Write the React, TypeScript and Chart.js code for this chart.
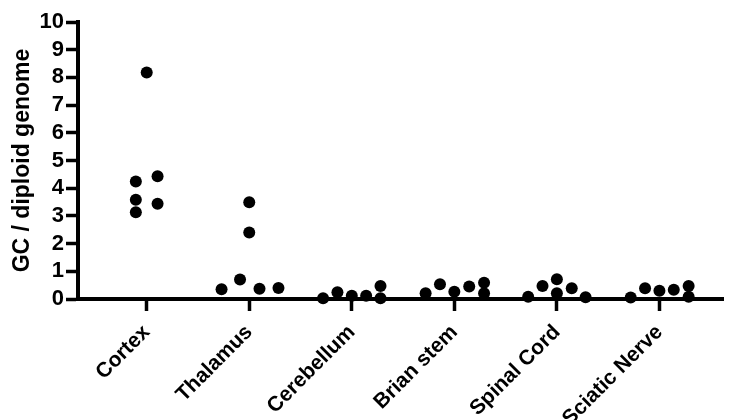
import React, { useEffect, useRef } from "react";
import { Chart, registerables } from "chart.js";

Chart.register(...registerables);

const categories = ["Cortex", "Thalamus", "Cerebellum", "Brian stem", "Spinal Cord", "Sciatic Nerve"];

// measured values per tissue (GC / diploid genome)
const cortexValues = [4.24, 3.58, 3.13, 8.18, 4.43, 3.44];
const thalamusValues = [0.35, 0.70, 3.49, 2.40, 0.37, 0.40];
const cerebellumValues = [0.03, 0.24, 0.12, 0.12, 0.47, 0.03];
const brianStemValues = [0.21, 0.53, 0.26, 0.45, 0.59, 0.21];
const spinalCordValues = [0.08, 0.47, 0.71, 0.21, 0.39, 0.06];
const sciaticNerveValues = [0.05, 0.39, 0.30, 0.33, 0.47, 0.08];

// horizontal scatter offsets of each point (in category units)
const cortexJitter = [-0.106, -0.106, -0.106, 0, 0.106, 0.106];
const thalamusJitter = [-0.27, -0.09, 0, 0, 0.1, 0.285];
const cerebellumJitter = [-0.28, -0.14, 0, 0.14, 0.28, 0.28];
const brianStemJitter = [-0.28, -0.14, 0, 0.145, 0.29, 0.29];
const spinalCordJitter = [-0.28, -0.14, 0, 0, 0.145, 0.28];
const sciaticNerveJitter = [-0.28, -0.14, 0, 0.14, 0.285, 0.285];

const yTicks = [0, 1, 2, 3, 4, 5, 6, 7, 8, 9, 10];

const allValues = [cortexValues, thalamusValues, cerebellumValues, brianStemValues, spinalCordValues, sciaticNerveValues];
const allJitter = [cortexJitter, thalamusJitter, cerebellumJitter, brianStemJitter, spinalCordJitter, sciaticNerveJitter];

const FONT = "'Liberation Sans', Arial, sans-serif";

export default function App() {
  const ref = useRef<HTMLCanvasElement | null>(null);

  useEffect(() => {
    if (!ref.current) return;
    const points: { x: number; y: number }[] = [];
    allValues.forEach((vals, ci) => {
      vals.forEach((v, i) => points.push({ x: ci + 1 + allJitter[ci][i], y: v }));
    });

    const chart = new Chart(ref.current, {
      type: "scatter",
      data: {
        datasets: [
          {
            data: points,
            backgroundColor: "#000",
            borderColor: "#000",
            borderWidth: 0,
            pointRadius: 6,
            pointHoverRadius: 6,
            clip: false as any,
          },
        ],
      },
      options: {
        animation: false,
        responsive: false,
        events: [],
        layout: { padding: { top: 22, right: 0, left: 0, bottom: 0 } },
        plugins: { legend: { display: false }, tooltip: { enabled: false } },
        scales: {
          x: {
            type: "linear",
            min: 0.33,
            max: 6.62,
            afterBuildTicks: (scale: any) => {
              scale.ticks = categories.map((_, i) => ({ value: i + 1 }));
            },
            afterFit: (scale: any) => {
              scale.height = 121;
            },
            grid: {
              drawOnChartArea: false,
              drawTicks: true,
              tickLength: 12,
              tickWidth: 3.5,
              tickColor: "#000",
            },
            border: { display: true, color: "#000", width: 4 },
            ticks: {
              autoSkip: false,
              minRotation: 45,
              maxRotation: 45,
              padding: 9,
              color: "#000",
              font: { family: FONT, size: 21, weight: "bold" },
              callback: (v: any) => categories[Math.round(Number(v)) - 1] ?? "",
            },
          },
          y: {
            type: "linear",
            min: 0,
            max: 10,
            afterBuildTicks: (scale: any) => {
              scale.ticks = yTicks.map((v) => ({ value: v }));
            },
            afterFit: (scale: any) => {
              scale.width = 78;
            },
            grid: {
              drawOnChartArea: false,
              drawTicks: true,
              tickLength: 12,
              tickWidth: 3.5,
              tickColor: "#000",
            },
            border: { display: true, color: "#000", width: 4 },
            ticks: {
              autoSkip: false,
              padding: 2,
              color: "#000",
              font: { family: FONT, size: 22, weight: "bold" },
            },
            title: {
              display: true,
              text: "GC / diploid genome",
              color: "#000",
              padding: { top: 9, bottom: 0 },
              font: { family: FONT, size: 23, weight: "bold" },
            },
          },
        },
      },
    });
    return () => chart.destroy();
  }, []);

  return (
    <div style={{ position: "absolute", left: 0, top: 0, width: 729, height: 420, background: "#fff" }}>
      <canvas ref={ref} width={729} height={420} style={{ width: 729, height: 420 }} />
    </div>
  );
}
